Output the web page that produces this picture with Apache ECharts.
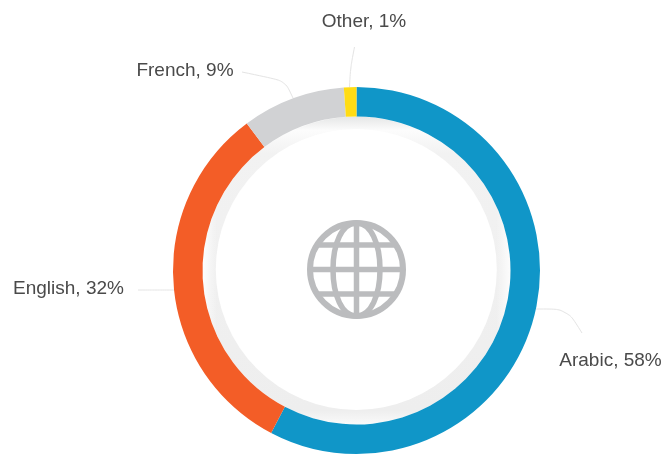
<!DOCTYPE html>
<html>
<head>
<meta charset="utf-8">
<style>html,body{margin:0;padding:0;background:#fff}#chart{width:667px;height:455px}</style>
<script src="https://cdn.jsdelivr.net/npm/echarts@6/dist/echarts.min.js"></script>
</head>
<body>
<div id="chart"></div>
<script>
const categories = ['Arabic', 'English', 'French', 'Other'];
const shares = [57.7, 32.1, 9.1, 1.1];
const sliceColors = ['#1096c8', '#f35d27', '#d1d2d4', '#ffdc14'];

const cx = 356.5, cy = 270.5;
const labelSpots = {
  Arabic:  { x: 610.5, y: 361, line: [[536, 309], [567, 309], [582, 333]] },
  English: { x: 68.5,  y: 289, line: [[174, 290], [156, 290], [138, 290]] },
  French:  { x: 185,   y: 71,  line: [[293, 98], [285, 81], [242, 72]] },
  Other:   { x: 364,   y: 22,  line: [[349.5, 87], [350.5, 68], [354.5, 47]] }
};

const gx = 356.5, gy = 269.5, gr = 46.5, rx = 23.5;
const gStroke = { stroke: '#bbbcbe', fill: 'none', lineWidth: 6 };
const gThin = { stroke: '#bbbcbe', fill: 'none', lineWidth: 5.5 };
const chord = (dy) => {
  const h = Math.sqrt(gr * gr - dy * dy);
  return { type: 'line', silent: true, z: 4, shape: { x1: gx - h, y1: gy + dy, x2: gx + h, y2: gy + dy }, style: gThin };
};
const meridian = (sx, sy) => ({
  type: 'bezierCurve', silent: true, z: 4,
  shape: {
    x1: gx, y1: gy + sy * gr,
    cpx1: gx + sx * rx * 0.62, cpy1: gy + sy * gr,
    cpx2: gx + sx * rx, cpy2: gy + sy * gr * 0.55,
    x2: gx + sx * rx, y2: gy
  },
  style: gThin
});

const chart = echarts.init(document.getElementById('chart'), null, { renderer: 'canvas' });
chart.setOption({
  animation: false,
  backgroundColor: '#ffffff',
  graphic: [
    {
      type: 'circle', silent: true, z: 1,
      shape: { cx: cx, cy: cy, r: 154 },
      style: {
        fill: {
          type: 'linear', x: 0, y: 0, x2: 0, y2: 1,
          colorStops: [
            { offset: 0, color: '#e5e6e6' },
            { offset: 0.045, color: '#fcfcfc' },
            { offset: 0.12, color: '#f2f2f2' },
            { offset: 0.955, color: '#eeeeee' },
            { offset: 1, color: '#fafafa' }
          ]
        }
      }
    },
    {
      type: 'circle', silent: true, z: 2,
      shape: { cx: cx, cy: cy, r: 154 },
      style: {
        fill: {
          type: 'linear', x: 0, y: 0, x2: 1, y2: 0,
          colorStops: [
            { offset: 0, color: 'rgba(255,255,255,0.85)' },
            { offset: 0.045, color: 'rgba(255,255,255,0)' },
            { offset: 0.955, color: 'rgba(255,255,255,0)' },
            { offset: 1, color: 'rgba(255,255,255,0.85)' }
          ]
        }
      }
    },
    { type: 'circle', silent: true, z: 3, shape: { cx: 356.3, cy: 269.5, r: 140.5 }, style: { fill: '#ffffff' } },
    { type: 'circle', silent: true, z: 4, shape: { cx: gx, cy: gy, r: gr }, style: gStroke },
    meridian(-1, -1), meridian(1, -1), meridian(-1, 1), meridian(1, 1),
    { type: 'line', silent: true, z: 4, shape: { x1: gx, y1: gy - gr, x2: gx, y2: gy + gr }, style: gThin },
    chord(-24.5), chord(0), chord(24.5)
  ],
  series: [{
    type: 'pie',
    center: [cx, cy],
    radius: [154, 183.5],
    startAngle: 90,
    clockwise: true,
    silent: true,
    avoidLabelOverlap: false,
    data: categories.map((name, i) => ({ name, value: shares[i], itemStyle: { color: sliceColors[i] } })),
    label: {
      show: true,
      formatter: (p) => p.name + ', ' + Math.round(p.value) + '%',
      color: '#4a4a4a',
      fontFamily: 'Liberation Sans',
      fontSize: 19,
      align: 'center',
      verticalAlign: 'middle'
    },
    labelLine: {
      show: true,
      smooth: 0.3,
      lineStyle: { color: '#e4e4e4', width: 1 }
    },
    labelLayout: (p) => {
      const s = labelSpots[categories[p.dataIndex]];
      return { x: s.x, y: s.y, align: 'center', verticalAlign: 'middle', labelLinePoints: s.line };
    }
  }]
});
</script>
</body>
</html>
